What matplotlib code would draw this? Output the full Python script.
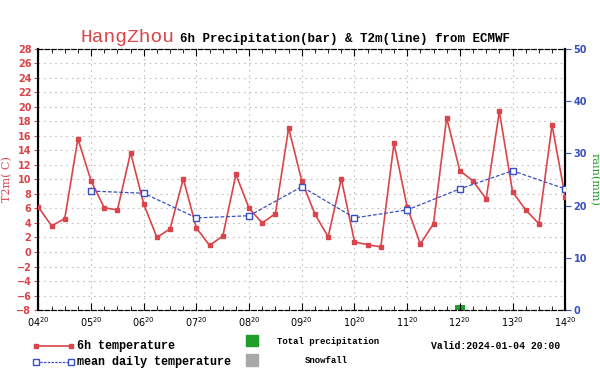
import numpy as np
import matplotlib
matplotlib.use("Agg")
from matplotlib import pyplot as plt
from matplotlib.lines import Line2D
from matplotlib.patches import Rectangle

# 6h temperature, starting 04 20:00, one value every 6 hours
temp_6h = [6.2, 3.6, 4.6, 15.6, 9.8, 6.1, 5.8, 13.7, 6.6, 2.0,
           3.2, 10.1, 3.3, 0.9, 2.2, 10.7, 6.0, 4.0, 5.3, 17.1,
           9.8, 5.2, 2.1, 10.1, 1.4, 1.0, 0.7, 15.0, 6.2, 1.1,
           3.9, 18.5, 11.2, 9.8, 7.3, 19.4, 8.3, 5.8, 3.9, 17.5, 7.6]
mean_days = [5, 6, 7, 8, 9, 10, 11, 12, 13, 14]
mean_temp = [8.4, 8.1, 4.7, 5.0, 9.0, 4.7, 5.8, 8.7, 11.2, 8.7]
rain_days = [12]
rain_mm = [1.0]
day_labels = ["04", "05", "06", "07", "08", "09", "10", "11", "12", "13", "14"]

t_6h = 4 + np.arange(len(temp_6h)) * 0.25

RED = "#d9454a"
BLUE = "#3a4fc0"
GREEN = "#1f9e2a"

fig = plt.figure(figsize=(6, 3.79), dpi=100)
ax = fig.add_axes([0.064, 0.182, 0.878, 0.689])
ax2 = ax.twinx()

ax2.bar(rain_days, rain_mm, width=0.2, color=GREEN, zorder=1)
ax2.set_ylim(0, 50)
ax2.set_yticks(range(0, 51, 10))
ax2.tick_params(axis="y", colors=BLUE, labelsize=7, direction="out",
                length=4, pad=2)
for lab in ax2.get_yticklabels():
    lab.set_fontweight("bold")
    lab.set_color(BLUE)
ax2.set_ylabel("rain(mm)", color=GREEN, fontsize=8, rotation=270,
               labelpad=9, family="DejaVu Serif")

ax.set_zorder(ax2.get_zorder() + 1)
ax.patch.set_visible(False)

ax.plot(t_6h, temp_6h, color=RED, lw=1.2, marker="s", ms=3.5,
        mfc=RED, mec=RED, zorder=3)
ax.plot(mean_days, mean_temp, color=BLUE, lw=0.9, ls=(0, (3, 1.5)),
        marker="s", ms=4.5, mfc="white", mec=BLUE, zorder=3)

ax.set_xlim(4, 14)
ax.set_ylim(-8, 28)
ax.set_yticks(range(-8, 29, 2))
ax.set_xticks(range(4, 15))
ax.set_xticks(np.arange(4, 14.01, 0.25), minor=True)
ax.set_xticklabels([d + "$^{20}$" for d in day_labels])
ax.tick_params(axis="x", which="major", labelsize=7, direction="in",
               length=5, top=True, pad=4)
ax.tick_params(axis="x", which="minor", direction="in", length=3, top=True)
ax.tick_params(axis="y", colors=RED, labelsize=7, direction="out",
               length=3, pad=2)
for lab in ax.get_yticklabels():
    lab.set_fontweight("bold")
    lab.set_color(RED)
ax.set_ylabel("T2m( C)", color=RED, fontsize=8, family="DejaVu Serif",
              labelpad=3)

ax.grid(True, which="major", color="#c0c0c0", ls=(0, (1.5, 3.5)), lw=0.8)

for a in (ax, ax2):
    a.spines["top"].set_linestyle((0, (4, 2)))
    a.spines["bottom"].set_linestyle((0, (4, 2)))
    a.spines["left"].set_linewidth(1.5)
    a.spines["right"].set_linewidth(1.5)

# title
fig.text(0.135, 0.89, "HangZhou", color=RED, fontsize=14,
         family="Liberation Mono")
fig.text(0.3, 0.89, "6h Precipitation(bar) & T2m(line) from ECMWF",
         color="black", fontsize=9, family="Liberation Mono",
         fontweight="bold")

# legend at the bottom
fig.add_artist(Line2D([0.06, 0.118], [0.087, 0.087], color=RED, lw=1.2,
                      marker="s", ms=3.5, markevery=[0, 1],
                      transform=fig.transFigure))
fig.text(0.128, 0.087, "6h temperature", fontsize=8.5, va="center",
         family="Liberation Mono", fontweight="bold")
fig.add_artist(Line2D([0.06, 0.118], [0.045, 0.045], color=BLUE, lw=0.9,
                      ls=(0, (2, 1)), marker="s", ms=4, mfc="white",
                      markevery=[0, 1], transform=fig.transFigure))
fig.text(0.128, 0.045, "mean daily temperature", fontsize=8.5, va="center",
         family="Liberation Mono", fontweight="bold")
fig.add_artist(Rectangle((0.41, 0.087), 0.02, 0.03, color=GREEN,
                         transform=fig.transFigure))
fig.text(0.462, 0.098, "Total precipitation", fontsize=6.5, va="center",
         family="Liberation Mono", fontweight="bold")
fig.add_artist(Rectangle((0.41, 0.035), 0.02, 0.03, color="#a8a8a8",
                         transform=fig.transFigure))
fig.text(0.508, 0.048, "Snowfall", fontsize=6.5, va="center",
         family="Liberation Mono", fontweight="bold")
fig.text(0.718, 0.087, "Valid:2024-01-04 20:00", fontsize=7, va="center",
         family="Liberation Mono", fontweight="bold")

fig.savefig("out.png", dpi=100)
